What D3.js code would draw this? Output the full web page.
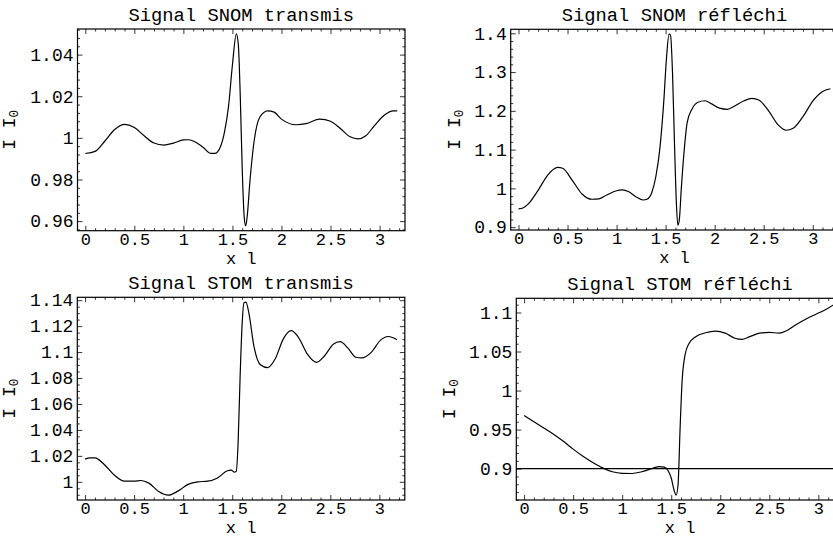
<!DOCTYPE html>
<html><head><meta charset="utf-8">
<script src="https://cdn.jsdelivr.net/npm/d3@7"></script>
<style>
body{margin:0;background:#fff}
svg{display:block}
text{font-family:"Nimbus Mono PS","Courier","Liberation Mono","Courier New",monospace;fill:#000}
</style>
</head><body>
<svg id="c" width="833" height="539"></svg>
<script>
// ---------- DATA ----------
const titles = ["Signal SNOM transmis", "Signal SNOM réfléchi", "Signal STOM transmis", "Signal STOM réfléchi"];
const xLabel = "x l";
const xTickValues = [0, 0.5, 1, 1.5, 2, 2.5, 3];

const snomTransX = [0,0.1,0.2,0.3,0.4,0.5,0.6,0.7,0.8,0.9,1.0,1.05,1.1,1.2,1.28,1.32,1.38,1.42,1.46,1.5,1.54,1.56,1.58,1.6,1.62,1.635,1.65,1.68,1.72,1.78,1.86,1.92,2.0,2.15,2.25,2.39,2.5,2.6,2.7,2.78,2.86,2.95,3.05,3.14,3.18];
const snomTransY = [0.9925,0.9935,0.9985,1.004,1.0065,1.005,1.001,0.9975,0.9965,0.9975,0.999,0.9991,0.9985,0.9955,0.9925,0.9925,0.996,1.003,1.015,1.035,1.05,1.045,1.02,0.985,0.962,0.9577,0.962,0.98,0.998,1.01,1.013,1.0125,1.009,1.0063,1.0068,1.009,1.008,1.0045,1.0005,0.9995,1.001,1.006,1.011,1.013,1.013];
const snomTransYTicks = [0.96, 0.98, 1, 1.02, 1.04];

const snomReflX = [0,0.05,0.1,0.2,0.3,0.4,0.45,0.55,0.65,0.75,0.82,0.9,1.0,1.06,1.12,1.2,1.27,1.31,1.36,1.4,1.44,1.48,1.51,1.535,1.55,1.57,1.59,1.61,1.625,1.64,1.66,1.69,1.72,1.77,1.83,1.9,1.97,2.05,2.13,2.2,2.3,2.38,2.45,2.55,2.65,2.73,2.8,2.9,3.0,3.1,3.18];
const snomReflY = [0.947,0.95,0.96,0.995,1.035,1.054,1.052,1.02,0.985,0.972,0.973,0.983,0.994,0.996,0.992,0.978,0.97,0.972,0.99,1.03,1.1,1.22,1.34,1.398,1.395,1.3,1.12,0.96,0.905,0.92,1.0,1.1,1.17,1.205,1.222,1.226,1.218,1.207,1.204,1.212,1.226,1.232,1.228,1.2,1.163,1.15,1.155,1.185,1.225,1.25,1.257];
const snomReflYTicks = [0.9, 1, 1.1, 1.2, 1.3, 1.4];

const stomTransX = [0,0.05,0.1,0.2,0.3,0.4,0.5,0.57,0.65,0.75,0.85,0.95,1.05,1.15,1.25,1.35,1.45,1.49,1.52,1.54,1.56,1.58,1.6,1.62,1.64,1.67,1.72,1.79,1.86,1.94,2.02,2.1,2.17,2.27,2.36,2.44,2.53,2.6,2.68,2.76,2.82,2.92,3.01,3.09,3.14,3.18];
const stomTransY = [1.0175,1.0185,1.0185,1.013,1.005,1.0005,1.0005,1.001,0.999,0.9925,0.9897,0.993,0.998,1.0,1.0005,1.003,1.0085,1.009,1.0075,1.008,1.03,1.08,1.12,1.138,1.1385,1.13,1.105,1.09,1.088,1.095,1.11,1.1165,1.112,1.098,1.092,1.097,1.106,1.108,1.103,1.096,1.0955,1.1,1.109,1.112,1.111,1.1095];
const stomTransYTicks = [1, 1.02, 1.04, 1.06, 1.08, 1.1, 1.12, 1.14];

const stomReflX = [0,0.1,0.2,0.3,0.4,0.5,0.6,0.7,0.8,0.9,1.0,1.1,1.2,1.3,1.38,1.43,1.47,1.5,1.53,1.55,1.57,1.59,1.61,1.64,1.68,1.75,1.85,1.95,2.05,2.15,2.22,2.3,2.4,2.5,2.6,2.68,2.78,2.88,2.98,3.08,3.18];
const stomReflY = [0.968,0.96,0.952,0.944,0.935,0.925,0.916,0.908,0.901,0.896,0.894,0.8938,0.896,0.9,0.9025,0.902,0.897,0.888,0.872,0.866,0.88,0.95,1.01,1.045,1.06,1.069,1.074,1.076,1.0735,1.067,1.0655,1.069,1.0735,1.0745,1.0735,1.077,1.085,1.092,1.098,1.104,1.112];
const stomReflYTicks = [0.9, 0.95, 1, 1.05, 1.1];
const stomReflRefLine = [0.9];

// ---------- LAYOUT ----------
const panels = [
  {xs: snomTransX, ys: snomTransY, yTicks: snomTransYTicks, yMinor: 0.004, left: 77.5, top: 29, w: 327.5, h: 201.7, ylx: 15},
  {xs: snomReflX, ys: snomReflY, yTicks: snomReflYTicks, yMinor: 0.02, left: 510.7, top: 29.3, w: 327.5, h: 200.7, ylx: 460},
  {xs: stomTransX, ys: stomTransY, yTicks: stomTransYTicks, yMinor: 0.005, left: 77.3, top: 297.3, w: 327.5, h: 202.7, ylx: 15},
  {xs: stomReflX, ys: stomReflY, yTicks: stomReflYTicks, yMinor: 0.01, left: 516.3, top: 298.3, w: 327.5, h: 201.7, ylx: 455, hline: stomReflRefLine}
];

const svg = d3.select("#c");
const FS = 18, FX = 17, FT = 18.8;
const major = 5, minor = 2.5;
const FONT = '"Nimbus Mono PS","Courier","Liberation Mono","Courier New",monospace';

function minorTicks(domain, step, majors) {
  const out = [];
  const start = Math.ceil(domain[0] / step - 1e-9), end = Math.floor(domain[1] / step + 1e-9);
  for (let i = start; i <= end; i++) {
    const v = +(i * step).toFixed(6);
    if (!majors.some(m => Math.abs(m - v) < step / 10)) out.push(v);
  }
  return out;
}

panels.forEach((p, i) => {
  const xe = d3.extent(p.xs), ye = d3.extent(p.ys);
  const pxd = (xe[1] - xe[0]) * 0.025, pyd = (ye[1] - ye[0]) * 0.025;
  const x = d3.scaleLinear().domain([xe[0] - pxd, xe[1] + pxd]).range([p.left, p.left + p.w]);
  const y = d3.scaleLinear().domain([ye[0] - pyd, ye[1] + pyd]).range([p.top + p.h, p.top]);
  const g = svg.append("g");
  const bottom = p.top + p.h, right = p.left + p.w;

  const xMinor = minorTicks(x.domain(), 0.1, xTickValues);
  const yMinor = minorTicks(y.domain(), p.yMinor, p.yTicks);
  const fmt = v => String(v);

  const styleAxis = fs => sel => {
    sel.select(".domain").remove();
    sel.selectAll("line").attr("stroke", "#000").attr("stroke-width", 0.8);
    sel.selectAll("text").attr("font-size", fs).style("font-family", FONT);
  };
  // bottom
  g.append("g").attr("transform", `translate(0,${bottom})`)
    .call(d3.axisBottom(x).tickValues(xTickValues).tickFormat(fmt).tickSize(-major).tickPadding(2)).call(styleAxis(FX));
  g.append("g").attr("transform", `translate(0,${bottom})`)
    .call(d3.axisBottom(x).tickValues(xMinor).tickFormat("").tickSize(-minor)).call(styleAxis(FX));
  // top
  g.append("g").attr("transform", `translate(0,${p.top})`)
    .call(d3.axisTop(x).tickValues(xTickValues).tickFormat("").tickSize(-major)).call(styleAxis(FX));
  g.append("g").attr("transform", `translate(0,${p.top})`)
    .call(d3.axisTop(x).tickValues(xMinor).tickFormat("").tickSize(-minor)).call(styleAxis(FX));
  // left
  g.append("g").attr("transform", `translate(${p.left},0)`)
    .call(d3.axisLeft(y).tickValues(p.yTicks).tickFormat(fmt).tickSize(-major).tickPadding(4)).call(styleAxis(FS));
  g.append("g").attr("transform", `translate(${p.left},0)`)
    .call(d3.axisLeft(y).tickValues(yMinor).tickFormat("").tickSize(-minor)).call(styleAxis(FS));
  // right
  g.append("g").attr("transform", `translate(${right},0)`)
    .call(d3.axisRight(y).tickValues(p.yTicks).tickFormat("").tickSize(-major)).call(styleAxis(FS));
  g.append("g").attr("transform", `translate(${right},0)`)
    .call(d3.axisRight(y).tickValues(yMinor).tickFormat("").tickSize(-minor)).call(styleAxis(FS));

  // frame
  g.append("rect").attr("x", p.left).attr("y", p.top).attr("width", p.w).attr("height", p.h)
    .attr("fill", "none").attr("stroke", "#000").attr("stroke-width", 1.2);

  const clipId = "clip" + i;
  svg.append("clipPath").attr("id", clipId).append("rect")
    .attr("x", p.left).attr("y", p.top).attr("width", p.w).attr("height", p.h);

  if (p.hline) {
    g.append("g").attr("clip-path", `url(#${clipId})`).selectAll("line.h").data(p.hline).join("line")
      .attr("x1", p.left).attr("x2", right).attr("y1", d => y(d)).attr("y2", d => y(d))
      .attr("stroke", "#000").attr("stroke-width", 1.1);
  }

  const pts = p.xs.map((d, k) => [d, p.ys[k]]);
  g.append("path").datum(pts).attr("clip-path", `url(#${clipId})`)
    .attr("d", d3.line().x(d => x(d[0])).y(d => y(d[1])).curve(d3.curveMonotoneX))
    .attr("fill", "none").attr("stroke", "#000").attr("stroke-width", 1.2);

  // titles
  const cx = (p.left + right) / 2;
  g.append("text").attr("x", cx).attr("y", p.top - 8).attr("text-anchor", "middle")
    .attr("font-size", FT).text(titles[i]);
  g.append("text").attr("x", cx).attr("y", Math.min(bottom + 33, 533)).attr("text-anchor", "middle")
    .attr("font-size", FX).text(xLabel);
  const yl = g.append("text").attr("transform", `translate(${p.ylx},${p.top + p.h / 2}) rotate(-90)`)
    .attr("text-anchor", "middle").attr("font-size", FS);
  yl.append("tspan").text("I I");
  yl.append("tspan").attr("font-size", FS * 0.7).attr("dy", 3).text("0");
});
</script>
</body></html>
